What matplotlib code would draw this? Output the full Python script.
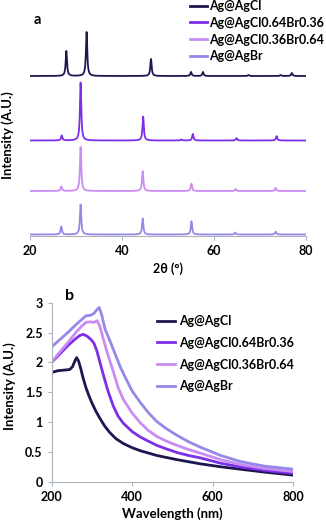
import numpy as np
import matplotlib

matplotlib.use("Agg")
import matplotlib.pyplot as plt
from matplotlib.lines import Line2D

plt.rcParams["font.family"] = ["Lato", "DejaVu Sans"]
plt.rcParams["font.weight"] = "bold"
plt.rcParams["axes.labelweight"] = "bold"

W, H = 326, 528

# ---------------------------------------------------------------------------
# Data
# ---------------------------------------------------------------------------

labels = ["Ag@AgCl", "Ag@AgCl0.64Br0.36", "Ag@AgCl0.36Br0.64", "Ag@AgBr"]
colors = ["#1e1650", "#7d2ee8", "#c98cf2", "#9588e8"]

# (a) XRD: peak positions (2θ) and heights, plus the vertical offset of each trace
xrd_offsets = [160, 95.5, 45, 1.5]
xrd_pos_agcl = [27.9, 32.3, 46.3, 55.0, 57.6, 67.5, 74.5, 76.9]
xrd_int_agcl = [25, 44, 17, 4, 4, 1, 1, 3]
xrd_pos_064 = [26.9, 31.0, 44.6, 52.9, 55.4, 64.9, 73.6]
xrd_int_064 = [5, 58, 24, 1, 6.5, 2.3, 4.3]
xrd_pos_036 = [26.8, 31.0, 44.5, 55.1, 64.7, 73.4]
xrd_int_036 = [4.5, 44, 20, 7.3, 2, 3]
xrd_pos_agbr = [26.8, 31.0, 44.5, 55.1, 64.6, 73.4]
xrd_int_agbr = [8, 30, 16, 13.3, 2, 3]

# (b) UV-vis absorbance
wl_agcl = [200, 215, 230, 245, 252, 258, 262, 267, 272, 278, 285, 292, 300,
           310, 320, 332, 345, 360, 378, 400, 420, 461, 511, 569, 620, 668,
           730, 800]
ab_agcl = [1.83, 1.86, 1.87, 1.88, 1.93, 2.03, 2.08, 2.02, 1.90, 1.74, 1.58,
           1.45, 1.32, 1.18, 1.06, 0.93, 0.82, 0.72, 0.64, 0.57, 0.52, 0.44,
           0.37, 0.30, 0.25, 0.21, 0.16, 0.11]
wl_064 = [200, 220, 240, 260, 270, 278, 288, 298, 305, 312, 320, 328, 340,
          353, 365, 378, 400, 420, 440, 461, 485, 511, 540, 569, 620, 668,
          730, 800]
ab_064 = [2.00, 2.14, 2.28, 2.40, 2.45, 2.47, 2.44, 2.38, 2.32, 2.20, 2.00,
          1.80, 1.52, 1.27, 1.10, 0.98, 0.84, 0.75, 0.68, 0.61, 0.55, 0.49,
          0.44, 0.40, 0.31, 0.25, 0.19, 0.14]
wl_036 = [200, 220, 240, 260, 275, 285, 295, 305, 313, 320, 328, 340, 353,
          365, 378, 400, 420, 440, 461, 485, 511, 540, 569, 620, 668, 730, 800]
ab_036 = [2.01, 2.17, 2.33, 2.50, 2.61, 2.67, 2.68, 2.67, 2.70, 2.60, 2.40,
          2.12, 1.85, 1.58, 1.38, 1.15, 0.99, 0.86, 0.76, 0.68, 0.61, 0.54,
          0.48, 0.37, 0.29, 0.22, 0.17]
wl_agbr = [200, 220, 240, 260, 275, 285, 297, 305, 312, 318, 325, 332, 349,
           370, 385, 400, 420, 440, 461, 485, 511, 540, 569, 620, 668, 730,
           800]
ab_agbr = [2.26, 2.38, 2.50, 2.63, 2.72, 2.78, 2.79, 2.82, 2.88, 2.92, 2.78,
           2.57, 2.29, 1.93, 1.72, 1.52, 1.33, 1.16, 1.01, 0.89, 0.78, 0.67,
           0.58, 0.44, 0.34, 0.26, 0.21]

AX_GRAY = "#a9b4bd"
FS = 9


def xrd_trace(tt, pos, heights, gamma=0.17):
    """Sum of narrow Lorentzian peaks on a flat baseline."""
    y = np.zeros_like(tt)
    for p, h in zip(pos, heights):
        y += h / (1 + ((tt - p) / gamma) ** 2)
    return y


def style_axis(ax):
    for s in ("top", "right"):
        ax.spines[s].set_visible(False)
    ax.spines["bottom"].set_color(AX_GRAY)
    ax.spines["left"].set_color(AX_GRAY)
    ax.tick_params(colors=AX_GRAY, labelcolor="black", labelsize=FS,
                   length=3, width=0.8)


def bold_ticks(ax):
    for t in ax.get_xticklabels() + ax.get_yticklabels():
        t.set_fontweight("bold")


fig = plt.figure(figsize=(W / 100, H / 100), dpi=100)

# ---------------------------------------------------------------------------
# (a) XRD patterns
# ---------------------------------------------------------------------------
ax1 = fig.add_axes([30 / W, 1 - 236 / H, 276 / W, 231 / H])
style_axis(ax1)
ax1.spines["left"].set_visible(False)
ax1.set_yticks([])

tt = np.arange(20, 80.001, 0.02)
xrd_pos = [xrd_pos_agcl, xrd_pos_064, xrd_pos_036, xrd_pos_agbr]
xrd_int = [xrd_int_agcl, xrd_int_064, xrd_int_036, xrd_int_agbr]
for pos, hts, off, c in zip(xrd_pos, xrd_int, xrd_offsets, colors):
    ax1.plot(tt, off + xrd_trace(tt, pos, hts), color=c, lw=1.3)

ax1.set_xlim(20, 80)
ax1.set_ylim(0, 231)
ax1.set_xticks([20, 40, 60, 80])
bold_ticks(ax1)
ax1.set_xlabel("2θ (°)", fontsize=FS, labelpad=4)
fig.text(8 / W, 1 - 135 / H, "Intensity (A.U.)", rotation=90, fontsize=FS + 0.5,
         fontweight="bold", ha="center", va="center")
fig.text(37 / W, 1 - 20 / H, "a", fontsize=10.5, fontweight="bold",
         ha="center", va="center")

handles = [Line2D([], [], color=c, lw=2) for c in colors]
fig.legend(handles, labels, loc="upper left", bbox_to_anchor=(190 / W, 1.0),
           frameon=False, prop={"size": FS, "weight": "bold"},
           handlelength=1.35, handletextpad=0.2,
           labelspacing=0.38, borderpad=0, borderaxespad=0)

# ---------------------------------------------------------------------------
# (b) UV-vis spectra
# ---------------------------------------------------------------------------
ax2 = fig.add_axes([51.7 / W, 46.3 / H, 241.3 / W, 179 / H])
style_axis(ax2)
uv = [(wl_agcl, ab_agcl), (wl_064, ab_064), (wl_036, ab_036), (wl_agbr, ab_agbr)]
for (wl, ab), c, lab in zip(uv, colors, labels):
    ax2.plot(wl, ab, color=c, lw=2, label=lab)

ax2.set_xlim(200, 800)
ax2.set_ylim(0, 3)
ax2.set_xticks([200, 400, 600, 800])
ax2.set_yticks([0, 0.5, 1, 1.5, 2, 2.5, 3])
ax2.set_yticklabels(["0", "0.5", "1", "1.5", "2", "2.5", "3"])
bold_ticks(ax2)
ax2.set_xlabel("Wavelength (nm)", fontsize=FS + 0.5, labelpad=3)
fig.text(10 / W, 1 - 386 / H, "Intensity (A.U.)", rotation=90, fontsize=FS + 0.5,
         fontweight="bold", ha="center", va="center")
fig.text(70 / W, 1 - 296 / H, "b", fontsize=11.5, fontweight="bold",
         ha="center", va="center")

ax2.legend(loc="upper left", bbox_to_anchor=(157 / W, 1 - 315 / H),
           bbox_transform=fig.transFigure, frameon=False,
           prop={"size": FS, "weight": "bold"},
           handlelength=1.4, handletextpad=0.35, labelspacing=0.78,
           borderpad=0, borderaxespad=0)

fig.savefig("out.png", dpi=100)
